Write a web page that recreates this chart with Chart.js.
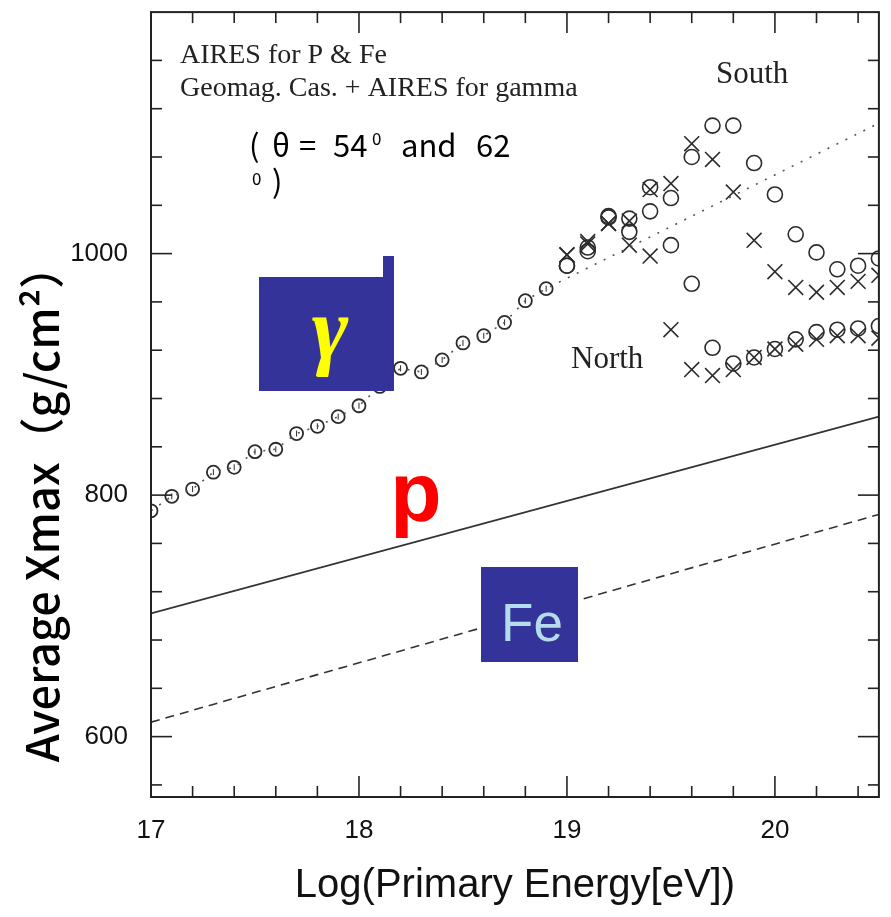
<!DOCTYPE html>
<html><head><meta charset="utf-8">
<script src="https://cdn.jsdelivr.net/npm/chart.js@4.4.1/dist/chart.umd.min.js"></script>
<style>html,body{margin:0;padding:0;background:#fff;}</style>
</head><body>
<canvas id="c" width="891" height="917"></canvas>
<script>
// ---- data ----
const gammaLowE = [17.0,17.1,17.2,17.3,17.4,17.5,17.6,17.7,17.8,17.9,18.0,18.1,18.2,18.3,18.4,18.5,18.6,18.7,18.8,18.9];
const gammaLowXmax = [787,799,805,819,823,836,838,851,857,865,874,890,905,902,912,926,932,943,961,971];
const gammaLineEndE = [20.5];
const gammaLineEndXmax = [1108];
const hiE = [19.0,19.1,19.2,19.3,19.4,19.5,19.6,19.7,19.8,19.9,20.0,20.1,20.2,20.3,20.4,20.5];
const circSouth = [990,1005,1030,1029,1055,1046,1080,1106,1106,1075,1049,1016,1001,987,990,996];
const circNorth = [990,1002,1031,1018,1035,1007,975,922,909,914,921,929,935,937,938,940];
const crossSouth = [999,1010,1025,1027,1053,1058,1091,1078,1051,1011,985,972,968,972,977,982];
const crossNorth = [999,1008,1025,1007,998,937,904,899,904,914,921,925,929,932,932,930];
const lineE = [17, 20.5];
const protonXmax = [702, 865];
const ironXmax = [612, 784];
const xTickLabels = [17, 18, 19, 20];
const yTickLabels = [600, 800, 1000];

const pts = (xs, ys) => xs.map((x, i) => ({x, y: ys[i]}));
const ink = '#2b2b2b';

const frameTicks = {
  id: 'frameTicks',
  afterDatasetsDraw(chart) {
    const {ctx, chartArea: a, scales: {x, y}} = chart;
    ctx.save();
    ctx.strokeStyle = '#222';
    ctx.lineWidth = 1.6;
    for (let k = 0; k <= 17; k++) {
      const v = 17 + k * 0.2;
      const px = x.getPixelForValue(v);
      const major = Math.abs(v - Math.round(v)) < 1e-6;
      const L = major ? 21 : 11;
      ctx.beginPath(); ctx.moveTo(px, a.bottom); ctx.lineTo(px, a.bottom - L); ctx.stroke();
      ctx.beginPath(); ctx.moveTo(px, a.top); ctx.lineTo(px, a.top + L); ctx.stroke();
    }
    for (let v = 560; v <= 1160; v += 40) {
      const py = y.getPixelForValue(v);
      const major = v % 200 === 0;
      const L = major ? 21 : 11;
      ctx.beginPath(); ctx.moveTo(a.left, py); ctx.lineTo(a.left + L, py); ctx.stroke();
      ctx.beginPath(); ctx.moveTo(a.right, py); ctx.lineTo(a.right - L, py); ctx.stroke();
    }
    ctx.lineWidth = 2;
    ctx.strokeRect(a.left, a.top, a.right - a.left, a.bottom - a.top);
    ctx.restore();
  }
};

const annotations = {
  id: 'annotations',
  afterDraw(chart) {
    const ctx = chart.ctx;
    ctx.save();
    ctx.fillStyle = '#222';
    ctx.textBaseline = 'alphabetic';
    ctx.textAlign = 'left';
    ctx.font = '28px "Liberation Serif", "Times New Roman", serif';
    ctx.fillText('AIRES for P & Fe', 180, 63);
    ctx.fillText('Geomag. Cas. + AIRES for gamma', 180, 96);
    ctx.font = '31px "Liberation Serif", "Times New Roman", serif';
    ctx.fillText('South', 716, 83);
    ctx.fillText('North', 571, 368);
    // theta note
    ctx.fillStyle = '#000';
    const sans = '"Noto Sans CJK JP", "Noto Sans", sans-serif';
    ctx.font = '31px ' + sans;
    ctx.fillText('(', 249, 157);
    ctx.fillText('θ', 272, 157);
    ctx.fillText('=', 299, 157);
    ctx.fillText('54', 333, 157);
    ctx.fillText('and', 401, 157);
    ctx.fillText('62', 476, 157);
    ctx.fillText(')', 272, 193);
    ctx.font = '17px ' + sans;
    ctx.fillText('0', 372, 145);
    ctx.fillText('0', 252, 185);
    // gamma box
    ctx.fillStyle = '#333399';
    ctx.fillRect(259, 277, 135, 114);
    ctx.fillRect(383, 256, 11, 22);
    ctx.fillStyle = '#ffff00';
    ctx.textAlign = 'center';
    ctx.textBaseline = 'alphabetic';
    ctx.font = 'italic bold 88px "Liberation Serif", serif';
    ctx.fillText('γ', 330, 358);
    // p label
    ctx.fillStyle = '#ff0000';
    ctx.textBaseline = 'middle';
    ctx.font = 'bold 84px "Liberation Sans", Arial, sans-serif';
    ctx.fillText('p', 416, 498);
    // Fe box
    ctx.fillStyle = '#333399';
    ctx.fillRect(481, 567, 97, 95);
    ctx.fillStyle = '#b4dcec';
    ctx.font = '53px "Liberation Sans", Arial, sans-serif';
    ctx.fillText('Fe', 532, 626);
    // y axis title
    ctx.fillStyle = '#000';
    ctx.translate(42, 503);
    ctx.rotate(-Math.PI / 2);
    ctx.font = '500 45px "Noto Sans CJK JP", sans-serif';
    ctx.fillText('Average Xmax（g/cm²）', 0, 0);
    ctx.restore();
  }
};

new Chart(document.getElementById('c'), {
  type: 'scatter',
  data: {
    datasets: [
      {label: 'gamma line', data: pts(gammaLowE.concat(gammaLineEndE), gammaLowXmax.concat(gammaLineEndXmax)),
       showLine: true, borderColor: '#555', borderWidth: 1.6, borderDash: [2, 8], pointRadius: 0, fill: false},
      {label: 'p', data: pts(lineE, protonXmax), showLine: true, borderColor: '#333', borderWidth: 1.8, pointRadius: 0},
      {label: 'Fe', data: pts(lineE, ironXmax), showLine: true, borderColor: '#333', borderWidth: 1.6, borderDash: [9, 6], pointRadius: 0},
      {label: 'gamma low', data: pts(gammaLowE, gammaLowXmax), pointStyle: 'circle', pointRadius: 6.5,
       borderColor: ink, borderWidth: 1.8, backgroundColor: 'rgba(255,255,255,0)'},
      {label: 'gamma low mark', data: pts(gammaLowE, gammaLowXmax), pointStyle: 'line', rotation: 90, pointRadius: 3,
       borderColor: ink, borderWidth: 1},
      {label: 'South o', data: pts(hiE, circSouth), pointStyle: 'circle', pointRadius: 7.5, borderColor: ink, borderWidth: 1.6, backgroundColor: 'rgba(255,255,255,0)'},
      {label: 'North o', data: pts(hiE, circNorth), pointStyle: 'circle', pointRadius: 7.5, borderColor: ink, borderWidth: 1.6, backgroundColor: 'rgba(255,255,255,0)'},
      {label: 'South x', data: pts(hiE, crossSouth), pointStyle: 'crossRot', pointRadius: 10.5, borderColor: ink, borderWidth: 1.6},
      {label: 'North x', data: pts(hiE, crossNorth), pointStyle: 'crossRot', pointRadius: 10.5, borderColor: ink, borderWidth: 1.6}
    ]
  },
  options: {
    responsive: false,
    animation: false,
    layout: {padding: {left: 0, right: 10, top: 9, bottom: 0}},
    plugins: {legend: {display: false}, tooltip: {enabled: false}},
    elements: {point: {hoverRadius: 0}},
    scales: {
      x: {
        type: 'linear', min: 17, max: 20.5,
        grid: {display: false, drawTicks: false},
        border: {display: false},
        afterBuildTicks: s => { s.ticks = xTickLabels.map(v => ({value: v})); },
        afterFit: s => { s.height = 120; s.paddingLeft = 0; s.paddingRight = 0; },
        ticks: {color: '#111', padding: 18, font: {family: '"Liberation Sans", Arial, sans-serif', size: 26}, callback: v => String(v)},
        title: {display: true, text: 'Log(Primary Energy[eV])', color: '#111',
                font: {family: '"Liberation Sans", Arial, sans-serif', size: 40}, padding: {top: 0, bottom: 7}}
      },
      y: {
        type: 'linear', min: 550, max: 1200,
        grid: {display: false, drawTicks: false},
        border: {display: false},
        afterBuildTicks: s => { s.ticks = yTickLabels.map(v => ({value: v})); },
        afterFit: s => { s.width = 151; s.paddingTop = 0; s.paddingBottom = 0; },
        ticks: {color: '#111', padding: 23, font: {family: '"Liberation Sans", Arial, sans-serif', size: 26}, callback: v => String(v)}
      }
    }
  },
  plugins: [frameTicks, annotations]
});
</script>
</body></html>
